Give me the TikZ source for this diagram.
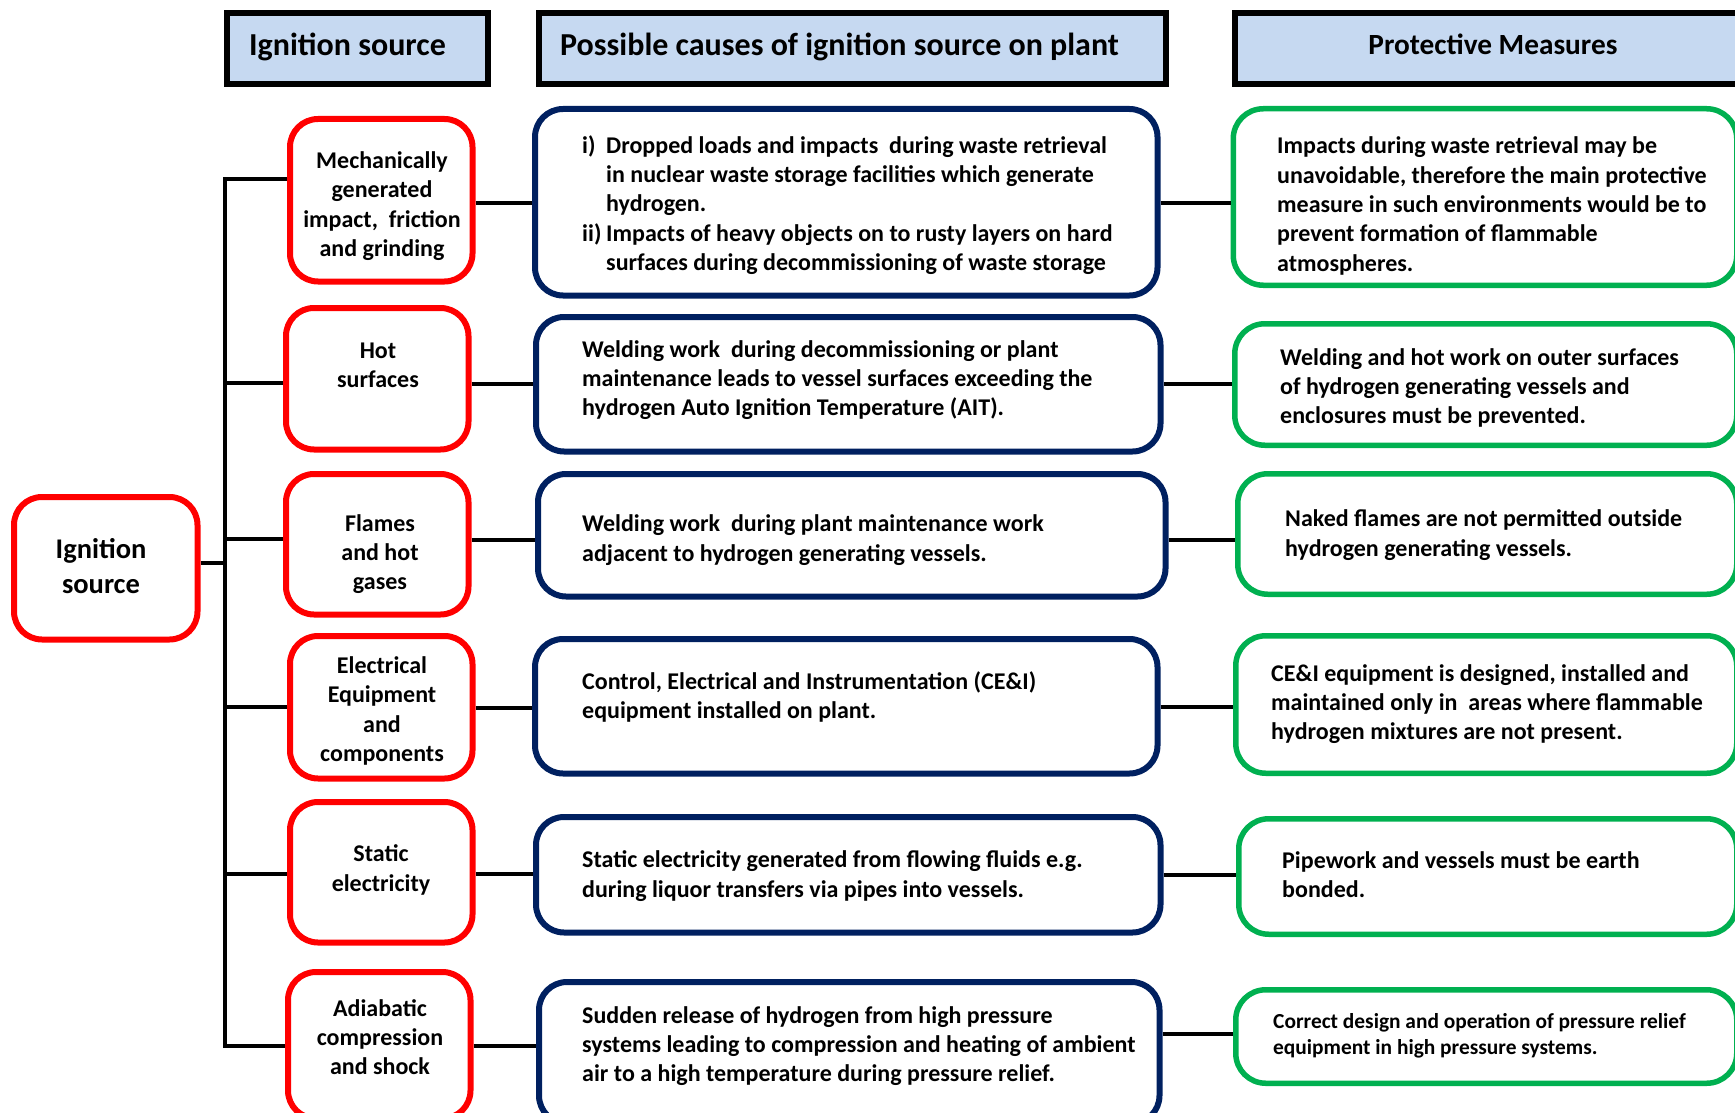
\documentclass[tikz,border=0pt]{standalone}
\usepackage{fontspec}
\setmainfont{Carlito}
\definecolor{hdrfill}{RGB}{198,217,241}
\definecolor{srcred}{RGB}{255,0,0}
\definecolor{causeblue}{RGB}{0,32,96}
\definecolor{measgreen}{RGB}{0,176,80}
\begin{document}
\begin{tikzpicture}[x=1pt,y=-1pt,
  panel/.style 2 args={anchor=north west, inner sep=0pt, minimum width=#1pt, minimum height=#2pt},
  hdrbox/.style={draw=black, line width=6pt, fill=hdrfill},
  srcbox/.style={draw=srcred, line width=6pt, fill=white, rounded corners=28pt},
  causebox/.style={draw=causeblue, line width=6pt, rounded corners=28pt},
  measbox/.style={draw=measgreen, line width=5.5pt, rounded corners=30pt},
  hdrtext/.style={font=\fontsize{32}{38}\selectfont\bfseries, inner sep=0pt},
  srctext/.style={font=\fontsize{24}{29.3}\selectfont\bfseries, inner sep=0pt, align=center},
  bodytext/.style={font=\fontsize{24}{29.3}\selectfont\bfseries, inner sep=0pt, align=left, anchor=west},
  smalltext/.style={font=\fontsize{21.4}{25.7}\selectfont\bfseries, inner sep=0pt, align=left, anchor=west},
  conn/.style={line width=4pt, line join=miter},
]
\useasboundingbox (0,0) rectangle (1735,1113);
\clip (0,0) rectangle (1735,1113);

% column headers
\node[panel={261.5}{70.7}, hdrbox] (h1) at (223.5,10.3) {};
\node[panel={627.5}{70.7}, hdrbox] (h2) at (535.5,10.3) {};
\node[panel={520}{70.7}, hdrbox] (h3) at (1231.5,10.3) {};
\node[hdrtext, anchor=base west] (h1t) at (249,56) {Ignition source};
\node[hdrtext, anchor=base west] (h2t) at (560,56) {Possible causes of ignition source on plant};
\node[hdrtext, anchor=base, font=\fontsize{29.3}{35}\selectfont\bfseries] (h3t) at (1493,55) {Protective Measures};

% root
\node[panel={183.5}{142.5}, srcbox] (ign) at (11,494) {};
\node[srctext, font=\fontsize{28.5}{35}\selectfont\bfseries] (ignt) at (101,566) {Ignition\\source};

% ignition sources
\node[panel={182.5}{162.5}, srcbox] (r1) at (287,116) {};
\node[panel={182.5}{141.5}, srcbox] (r2) at (283,305) {};
\node[panel={182.5}{140.5}, srcbox] (r3) at (283,471) {};
\node[panel={182.5}{142.5}, srcbox] (r4) at (287,633) {};
\node[panel={182.5}{140.5}, srcbox] (r5) at (287,799) {};
\node[panel={182.5}{146.5}, srcbox] (r6) at (285,969) {};
\node[srctext] (r1t) at (382,206) {Mechanically\\generated\\impact,\ \ friction\\and grinding};
\node[srctext] (r2t) at (378,365) {Hot\\surfaces};
\node[srctext] (r3t) at (380,554) {Flames\\and hot\\gases};
\node[srctext] (r4t) at (382,711) {Electrical\\Equipment\\and\\components};
\node[srctext] (r5t) at (381,870) {Static\\electricity};
\node[srctext] (r6t) at (380,1037) {Adiabatic\\compression\\and shock};

% possible causes
\node[panel={622.5}{186.5}, causebox] (b1) at (532,106) {};
\node[panel={624.5}{134.5}, causebox] (b2) at (533,314) {};
\node[panel={627.5}{122.5}, causebox] (b3) at (535,471) {};
\node[panel={622.5}{134.5}, causebox] (b4) at (532,636) {};
\node[panel={624.5}{115.5}, causebox] (b5) at (533,814) {};
\node[panel={620.5}{141.5}, causebox] (b6) at (536,979) {};
\node[bodytext] (b1t) at (582,205) {\makebox[24pt][l]{i)}Dropped loads and impacts\ \ during waste retrieval\\
  \hspace*{24pt}in nuclear waste storage facilities which generate\\
  \hspace*{24pt}hydrogen.\\
  \makebox[24pt][l]{ii)}Impacts of heavy objects on to rusty layers on hard\\
  \hspace*{24pt}surfaces during decommissioning of waste storage};
\node[bodytext] (b2t) at (582,380) {Welding work\ \ during decommissioning or plant\\maintenance leads to vessel surfaces exceeding the\\hydrogen Auto Ignition Temperature (AIT).};
\node[bodytext] (b3t) at (582,540) {Welding work\ \ during plant maintenance work\\adjacent to hydrogen generating vessels.};
\node[bodytext] (b4t) at (582,697) {Control, Electrical and Instrumentation (CE\&I)\\equipment installed on plant.};
\node[bodytext] (b5t) at (582,876) {Static electricity generated from flowing fluids e.g.\\during liquor transfers via pipes into vessels.};
\node[bodytext] (b6t) at (582,1046) {Sudden release of hydrogen from high pressure\\systems leading to compression and heating of ambient\\air to a high temperature during pressure relief.};

% protective measures
\node[panel={503.5}{176.5}, measbox] (g1) at (1230.5,106) {};
\node[panel={502}{121.5}, measbox] (g2) at (1232,321) {};
\node[panel={499}{120.5}, measbox] (g3) at (1235,471) {};
\node[panel={501}{137.5}, measbox] (g4) at (1233,633) {};
\node[panel={498}{115.5}, measbox] (g5) at (1236,816) {};
\node[panel={501}{93.5}, measbox] (g6) at (1233,987) {};
\node[bodytext] (g1t) at (1277,206) {Impacts during waste retrieval may be\\unavoidable, therefore the main protective\\measure in such environments would be to\\prevent formation of flammable\\atmospheres.};
\node[bodytext] (g2t) at (1280,388) {Welding and hot work on outer surfaces\\of hydrogen generating vessels and\\enclosures must be prevented.};
\node[bodytext] (g3t) at (1285,535) {Naked flames are not permitted outside\\hydrogen generating vessels.};
\node[bodytext] (g4t) at (1271,704) {CE\&I equipment is designed, installed and\\maintained only in\ \ areas where flammable\\hydrogen mixtures are not present.};
\node[bodytext] (g5t) at (1282,875) {Pipework and vessels must be earth\\bonded.};
\node[smalltext] (g6t) at (1273,1036) {Correct design and operation of pressure relief\\equipment in high pressure systems.};

% tree: trunk with branches to each ignition source
\coordinate (j0) at (225,563);
\coordinate (j1) at (225,179);
\coordinate (j2) at (225,383);
\coordinate (j3) at (225,539);
\coordinate (j4) at (225,707);
\coordinate (j5) at (225,874);
\coordinate (j6) at (225,1046);
\draw[conn] (j1 -| r1.west) -- (j1) -- (j6) -- (j6 -| r6.west);
\draw[conn] (j0 -| ign.east) -- (j0);
\draw[conn] (j2) -- (j2 -| r2.west);
\draw[conn] (j3) -- (j3 -| r3.west);
\draw[conn] (j4) -- (j4 -| r4.west);
\draw[conn] (j5) -- (j5 -| r5.west);

% source -> cause links
\coordinate (k1) at (0,203);
\coordinate (k2) at (0,384);
\coordinate (k3) at (0,540);
\coordinate (k4) at (0,708);
\coordinate (k5) at (0,874);
\coordinate (k6) at (0,1046);
\draw[conn] (k1 -| r1.east) -- (k1 -| b1.west);
\draw[conn] (k2 -| r2.east) -- (k2 -| b2.west);
\draw[conn] (k3 -| r3.east) -- (k3 -| b3.west);
\draw[conn] (k4 -| r4.east) -- (k4 -| b4.west);
\draw[conn] (k5 -| r5.east) -- (k5 -| b5.west);
\draw[conn] (k6 -| r6.east) -- (k6 -| b6.west);

% cause -> measure links
\coordinate (m1) at (0,203);
\coordinate (m2) at (0,384);
\coordinate (m3) at (0,540);
\coordinate (m4) at (0,707);
\coordinate (m5) at (0,875);
\coordinate (m6) at (0,1034);
\draw[conn] (m1 -| b1.east) -- (m1 -| g1.west);
\draw[conn] (m2 -| b2.east) -- (m2 -| g2.west);
\draw[conn] (m3 -| b3.east) -- (m3 -| g3.west);
\draw[conn] (m4 -| b4.east) -- (m4 -| g4.west);
\draw[conn] (m5 -| b5.east) -- (m5 -| g5.west);
\draw[conn] (m6 -| b6.east) -- (m6 -| g6.west);
\end{tikzpicture}
\end{document}
